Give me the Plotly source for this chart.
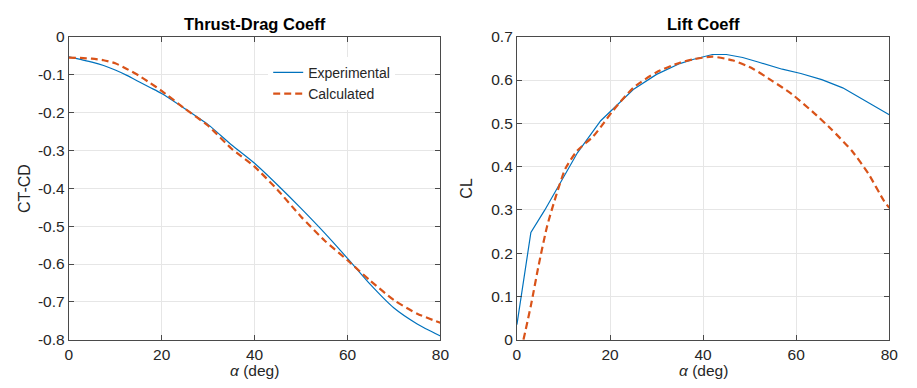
import plotly.graph_objects as go

# ---------------- data ----------------
alpha_td = [0, 2.5, 5, 7.5, 10, 12.5, 15, 17.5, 20, 25, 30, 35, 40, 45, 50, 55, 60, 65, 70, 75, 80]
td_exp = [-0.053, -0.060, -0.067, -0.076, -0.088, -0.102, -0.118, -0.134, -0.150, -0.190, -0.232,
          -0.285, -0.334, -0.392, -0.453, -0.517, -0.585, -0.655, -0.716, -0.758, -0.790]
td_calc = [-0.055, -0.056, -0.058, -0.062, -0.070, -0.085, -0.102, -0.122, -0.143, -0.190, -0.235,
           -0.295, -0.343, -0.405, -0.475, -0.537, -0.590, -0.645, -0.695, -0.731, -0.755]

alpha_cl_exp = [0, 3, 6, 10, 13, 18, 21.5, 25, 30, 35, 38, 42, 45, 48.5, 52, 57, 61, 65.5, 70, 73.5, 77, 80]
cl_exp = [0.035, 0.248, 0.300, 0.377, 0.432, 0.506, 0.542, 0.578, 0.613, 0.638, 0.648, 0.659, 0.659,
          0.652, 0.641, 0.625, 0.615, 0.601, 0.582, 0.560, 0.538, 0.520]
alpha_cl_calc = [1.4, 3, 4.7, 6.5, 8.3, 10.4, 12.9, 16.4, 18.6, 20.7, 25, 30, 35, 38, 42, 46.5, 50.7,
                 55, 59, 63.5, 67.5, 72, 75.5, 78.8, 80]
cl_calc = [0.0, 0.079, 0.174, 0.263, 0.329, 0.395, 0.436, 0.470, 0.500, 0.530, 0.582, 0.618, 0.640,
           0.648, 0.654, 0.645, 0.626, 0.597, 0.568, 0.527, 0.487, 0.436, 0.384, 0.322, 0.305]

x_ticks = [0, 20, 40, 60, 80]
td_ticks = [0, -0.1, -0.2, -0.3, -0.4, -0.5, -0.6, -0.7, -0.8]
cl_ticks = [0, 0.1, 0.2, 0.3, 0.4, 0.5, 0.6, 0.7]

# ---------------- style ----------------
W, H = 917, 388
BLUE = "#0072BD"
RED = "#D95319"
AX = "#4a4a4a"
TXT = "#262626"
GRID = "#e6e6e6"
FONT = "Liberation Sans, Arial, sans-serif"

fig = go.Figure()
fig.add_trace(go.Scatter(x=alpha_td, y=td_exp, mode="lines", name="Experimental",
                         line=dict(color=BLUE, width=1.2, shape="spline", smoothing=0.6),
                         xaxis="x", yaxis="y"))
fig.add_trace(go.Scatter(x=alpha_td, y=td_calc, mode="lines", name="Calculated",
                         line=dict(color=RED, width=2.2, dash="7px,4px", shape="spline", smoothing=0.6),
                         xaxis="x", yaxis="y"))
fig.add_trace(go.Scatter(x=alpha_cl_exp, y=cl_exp, mode="lines", name="Experimental",
                         line=dict(color=BLUE, width=1.2), showlegend=False,
                         xaxis="x2", yaxis="y2"))
fig.add_trace(go.Scatter(x=alpha_cl_calc, y=cl_calc, mode="lines", name="Calculated",
                         line=dict(color=RED, width=2.2, dash="7px,4px", shape="spline", smoothing=0.6),
                         showlegend=False, xaxis="x2", yaxis="y2"))

L1, R1 = 65.7, 442.7
L2, R2 = 520.3, 898.0
T, B = 29.0, 346.0

def xd(a, b):
    return [a / W, b / W]

ydom = [1 - B / H, 1 - T / H]

common = dict(showline=True, linecolor=AX, linewidth=1, mirror="ticks",
              ticks="inside", ticklen=5, tickcolor=AX, tickwidth=1,
              showgrid=True, gridcolor=GRID, gridwidth=1, zeroline=False,
              tickfont=dict(family=FONT, size=15.5, color=TXT), fixedrange=True)

fig.update_layout(
    width=W, height=H,
    margin=dict(l=0, r=0, t=0, b=0),
    paper_bgcolor="white", plot_bgcolor="white",
    font=dict(family=FONT, color=TXT),
    xaxis=dict(domain=xd(L1, R1), range=[0, 80], tickvals=x_ticks, anchor="y",
               ticklabelstandoff=1, **common),
    yaxis=dict(domain=ydom, range=[-0.8, 0], tickvals=td_ticks,
               ticktext=[f"{v:g}" for v in td_ticks], anchor="x", **common),
    xaxis2=dict(domain=xd(L2, R2), range=[0, 80], tickvals=x_ticks, anchor="y2",
                ticklabelstandoff=1, **common),
    yaxis2=dict(domain=ydom, range=[0, 0.7], tickvals=cl_ticks,
                ticktext=[f"{v:g}" for v in cl_ticks], anchor="x2", **common),
    legend=dict(x=268 / W, y=1 - 50 / H, xanchor="left", yanchor="top",
                bgcolor="white", borderwidth=0, font=dict(family=FONT, size=14, color=TXT),
                tracegroupgap=0, itemwidth=30),
    showlegend=True,
)

ann = []
ann.append(dict(text="<b>Thrust-Drag Coeff</b>", x=(L1 + R1) / 2 / W, y=1 - 15.5 / H,
                xref="paper", yref="paper", showarrow=False, xanchor="center", yanchor="middle",
                font=dict(family=FONT, size=16.5, color="black")))
ann.append(dict(text="<b>Lift Coeff</b>", x=(L2 + R2) / 2 / W, y=1 - 15.5 / H,
                xref="paper", yref="paper", showarrow=False, xanchor="center", yanchor="middle",
                font=dict(family=FONT, size=16.5, color="black")))
for cx in [(L1 + R1) / 2, (L2 + R2) / 2]:
    ann.append(dict(text="<i>α</i> (deg)",
                    x=cx / W, y=0, xref="paper", yref="paper", showarrow=False,
                    xanchor="center", yanchor="bottom", borderpad=0,
                    font=dict(family=FONT, size=15.5, color=TXT)))
ann.append(dict(text="CT-CD", x=21 / W, y=1 - (T + B) / 2 / H, xref="paper", yref="paper",
                showarrow=False, textangle=-90, xanchor="center", yanchor="middle",
                font=dict(family=FONT, size=16, color=TXT)))
ann.append(dict(text="CL", x=469 / W, y=1 - (T + B) / 2 / H, xref="paper", yref="paper",
                showarrow=False, textangle=-90, xanchor="center", yanchor="middle",
                font=dict(family=FONT, size=16, color=TXT)))
fig.update_layout(annotations=ann)

fig.write_html("out.html")
